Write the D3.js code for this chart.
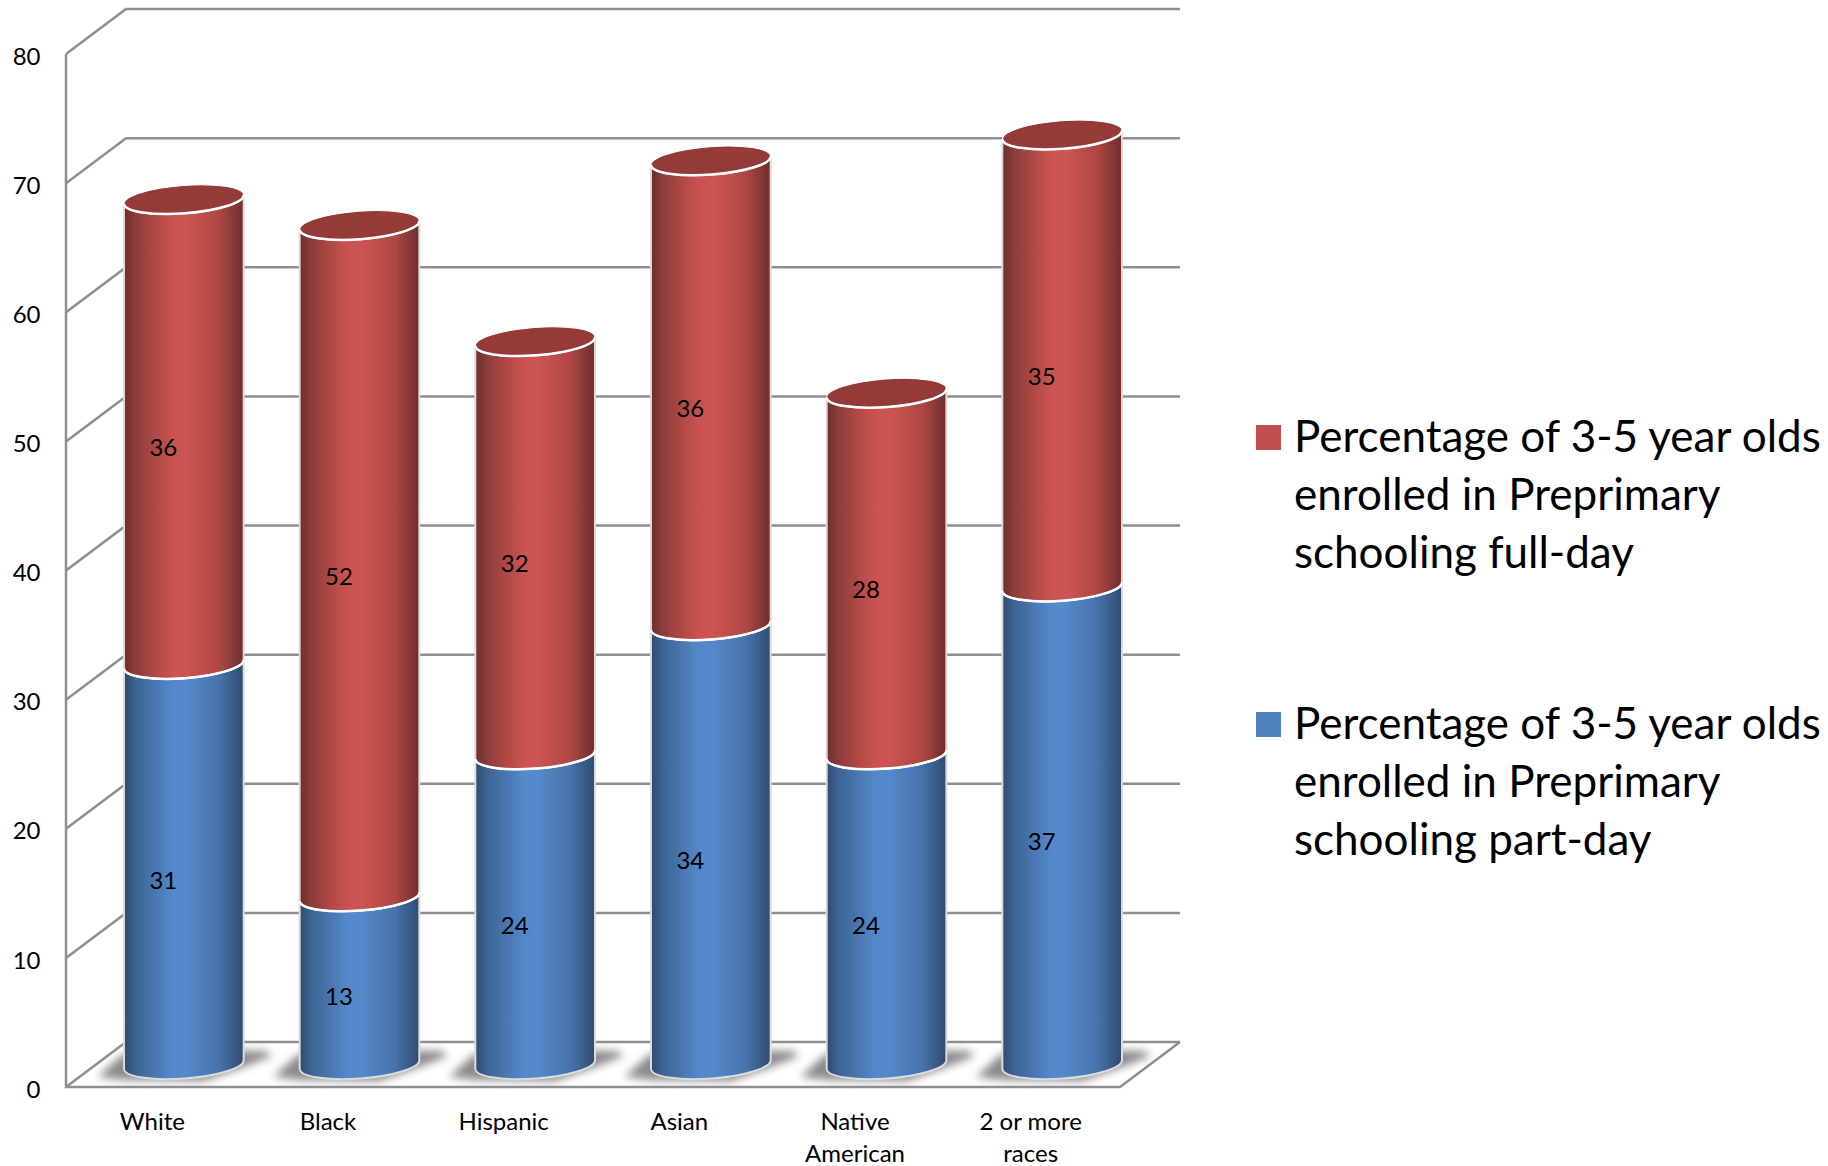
<!DOCTYPE html>
<html>
<head>
    <title></title>
    <meta charset="utf-8" />
    <style>
        html, body { margin: 0; background: #fff; }
        svg { display: block; }
        text { font-family: Lato, sans-serif; fill: #000; }
    </style>
    <script src="https://d3js.org/d3.v7.min.js"></script>
</head>
<body>
<svg id="main-graph"></svg>
<script>

let categories = ["White", "Black", "Hispanic", "Asian", "Native American", "2 or more races"];
let partDay = [31, 13, 24, 34, 24, 37];
let fullDay = [36, 52, 32, 36, 28, 35];
let yTicks = [0, 10, 20, 30, 40, 50, 60, 70, 80];
let legendFull = ["Percentage of 3-5 year olds", "enrolled in Preprimary", "schooling full-day"];
let legendPart = ["Percentage of 3-5 year olds", "enrolled in Preprimary", "schooling part-day"];

let realW = 1828;
let realH = 1166;

// the 3d box: front plane + depth offset to the back wall
let depthX = 60;
let depthY = -45;

let x = d3.scaleBand().domain(categories).range([66, 1120]);
let y = d3.scaleLinear().domain([0, 80]).range([1087, 54]);

let svg = d3.select("#main-graph")
    .attr("width", realW)
    .attr("height", realH);

let defs = svg.append("defs");

function addGradient(id, stops) {
    let g = defs.append("linearGradient").attr("id", id);
    stops.forEach(s => {
        g.append("stop").attr("offset", s[0]).attr("stop-color", s[1]);
    });
}
addGradient("redBody", [[0, "#6b2e2c"], [0.1, "#8e3d3a"], [0.4, "#ca5350"], [0.52, "#cd5452"], [0.8, "#ad4744"], [1, "#6c2e2c"]]);
addGradient("blueBody", [[0, "#2e4b70"], [0.1, "#3d6493"], [0.4, "#5488ca"], [0.52, "#5589cc"], [0.8, "#4673a8"], [1, "#2e4b70"]]);

defs.append("filter").attr("id", "blur")
    .attr("x", "-30%").attr("y", "-60%").attr("width", "160%").attr("height", "220%")
    .append("feGaussianBlur").attr("stdDeviation", 4.5);

/* box: walls, floor, gridlines */

let grid = svg.append("g")
    .attr("fill", "none")
    .attr("stroke", "#8f8f8f")
    .attr("stroke-width", 2.5);

grid.selectAll("path.wall")
    .data(yTicks)
    .enter()
    .append("path")
    .attr("class", "wall")
    .attr("d", d => d3.line()([
        [x.range()[0], y(d)],
        [x.range()[0] + depthX, y(d) + depthY],
        [x.range()[1] + depthX, y(d) + depthY]
    ]));

// left vertical + front edge of floor
grid.append("path")
    .attr("d", d3.line()([
        [x.range()[0], y(80)],
        [x.range()[0], y(0)],
        [x.range()[1], y(0)],
        [x.range()[1] + depthX, y(0) + depthY]
    ]));

/* bars */

let cx = d => x(d) + x.bandwidth() / 2 + depthX / 2;
let rx = 60;
let ry = 14;
let tilt = -4.3;
let tiltRad = tilt * Math.PI / 180;
let level = v => y(v) + depthY / 2;

// left/right ends of the tilted ellipse at a value level
function ends(d, v) {
    return {
        lx: cx(d) - rx * Math.cos(tiltRad),
        ly: level(v) - rx * Math.sin(tiltRad),
        rx: cx(d) + rx * Math.cos(tiltRad),
        ry: level(v) + rx * Math.sin(tiltRad)
    };
}

function bodyPath(d, v0, v1) {
    let a = ends(d, v0), b = ends(d, v1);
    return "M" + b.lx + "," + b.ly +
        "L" + a.lx + "," + a.ly +
        "A" + rx + "," + ry + " " + tilt + " 0 0 " + a.rx + "," + a.ry +
        "L" + b.rx + "," + b.ry +
        "A" + rx + "," + ry + " " + tilt + " 0 1 " + b.lx + "," + b.ly + "Z";
}

function frontArc(d, v) {
    let a = ends(d, v);
    return "M" + a.lx + "," + a.ly + "A" + rx + "," + ry + " " + tilt + " 0 0 " + a.rx + "," + a.ry;
}

let bars = svg.selectAll("g.bar")
    .data(categories)
    .enter()
    .append("g")
    .attr("class", "bar");

// floor shadow
bars.append("path")
    .attr("fill", "#8a8a8a")
    .attr("filter", "url(#blur)")
    .attr("d", d => {
        let c = cx(d), f = y(0);
        return d3.line()([
            [c - 86, f - 10], [c - 58, f - 7], [c + 20, f - 6], [c + 60, f - 20],
            [c + 88, f - 31], [c + 82, f - 36], [c - 30, f - 38], [c - 62, f - 32]
        ]);
    });

bars.append("path")
    .attr("fill", "url(#blueBody)")
    .attr("stroke", "#dcdcdc")
    .attr("stroke-width", 2)
    .attr("d", (d, i) => bodyPath(d, 0, partDay[i]));

bars.append("path")
    .attr("fill", "url(#redBody)")
    .attr("stroke", "#e2d8d8")
    .attr("stroke-width", 2)
    .attr("d", (d, i) => bodyPath(d, partDay[i], partDay[i] + fullDay[i]));

bars.append("path")
    .attr("fill", "none")
    .attr("stroke", "#fff")
    .attr("stroke-width", 2.5)
    .attr("d", (d, i) => frontArc(d, partDay[i]));

// top cap
bars.append("ellipse")
    .attr("fill", "#943a38")
    .attr("stroke", "#fff")
    .attr("stroke-width", 1)
    .attr("rx", rx)
    .attr("ry", ry)
    .attr("transform", (d, i) => "translate(" + cx(d) + "," + level(partDay[i] + fullDay[i]) + ") rotate(" + tilt + ")");

bars.append("path")
    .attr("fill", "none")
    .attr("stroke", "#fff")
    .attr("stroke-width", 2.5)
    .attr("d", (d, i) => frontArc(d, partDay[i] + fullDay[i]));

/* value labels */

function valueLabel(values, base) {
    bars.append("text")
        .attr("text-anchor", "middle")
        .attr("dy", "0.35em")
        .style("font-size", "24px")
        .attr("x", d => cx(d) - 20.5)
        .attr("y", (d, i) => level(base(i) + values[i] / 2) + 16)
        .text((d, i) => values[i]);
}
valueLabel(partDay, i => 0);
valueLabel(fullDay, i => partDay[i]);

/* axes */

let yAxis = svg.append("g")
    .attr("transform", "translate(40.5,2.5)")
    .call(d3.axisLeft(y).tickValues(yTicks).tickSize(0).tickPadding(0));
yAxis.select(".domain").remove();
yAxis.selectAll("text")
    .style("font-size", "24px")
    .style("font-family", "Lato, sans-serif");

let xAxis = svg.append("g")
    .attr("transform", "translate(-1.5,1113)")
    .call(d3.axisBottom(x).tickSize(0).tickPadding(0));
xAxis.select(".domain").remove();
xAxis.selectAll("text")
    .style("font-size", "24px")
    .style("font-family", "Lato, sans-serif")
    .each(function(d) {
        // wrap the long names on two lines
        let words = d.split(" ");
        let lines = words.length > 2 ? [words.slice(0, 3).join(" "), words[3]] : words;
        if (d == "White" || d == "Black") lines = [d];
        let t = d3.select(this).text(null);
        lines.forEach((l, i) => {
            t.append("tspan").attr("x", 0).attr("y", i * 32).attr("dy", "0.71em").text(l);
        });
    });

/* legend */

let legend = svg.selectAll("g.legend")
    .data([
        { color: "#c0504d", lines: legendFull, top: 451 },
        { color: "#4f81bd", lines: legendPart, top: 738 }
    ])
    .enter()
    .append("g")
    .attr("class", "legend");

legend.append("rect")
    .attr("x", 1256)
    .attr("y", d => d.top - 26)
    .attr("width", 25)
    .attr("height", 25)
    .attr("fill", d => d.color);

legend.each(function(d) {
    d3.select(this).selectAll("text")
        .data(d.lines)
        .enter()
        .append("text")
        .attr("x", 1294)
        .attr("y", (l, i) => d.top + 1 + i * 58)
        .style("font-size", "44px")
        .text(l => l);
});

</script>
</body>
</html>
